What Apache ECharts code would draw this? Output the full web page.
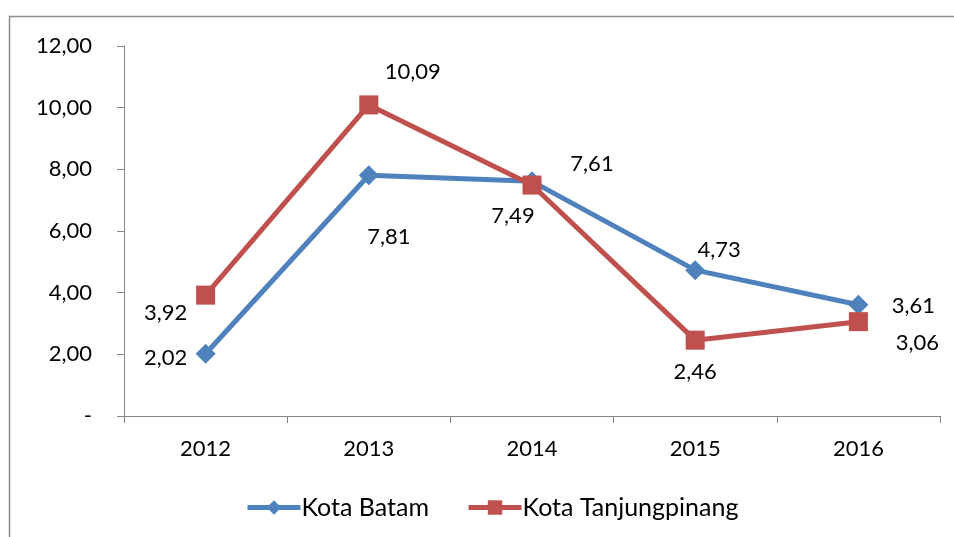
<!DOCTYPE html>
<html><head><meta charset="utf-8">
<script src="https://cdn.jsdelivr.net/npm/echarts@6/dist/echarts.min.js"></script>
<style>html,body{margin:0;padding:0;background:#fff}#c{width:954px;height:537px}</style>
</head><body><div id="c"></div>
<script>
const categories = ['2012','2013','2014','2015','2016'];
const seriesNames = ['Kota Batam','Kota Tanjungpinang'];
const batam = [2.02, 7.81, 7.61, 4.73, 3.61];
const tanjungpinang = [3.92, 10.09, 7.49, 2.46, 3.06];
const yTicks = [0, 2, 4, 6, 8, 10, 12];

const batamOffsets = [[-40,4],[20,62],[60,-17],[24,-20],[55,1]];
const tanjOffsets = [[-40,18],[44,-33],[-19,31],[0,32],[59,21]];

const FONT = 'Lato';
const fmt = v => v === 0 ? '-' : v.toFixed(2).replace('.', ',');

function build(vals, offs) {
  return vals.map((v, i) => ({
    value: v,
    label: { show: true, position: 'inside', offset: offs[i], formatter: p => fmt(p.value),
      color: '#000', fontFamily: FONT, fontSize: 22 }
  }));
}

const chart = echarts.init(document.getElementById('c'));
chart.setOption({
  animation: false,
  backgroundColor: '#fff',
  graphic: [{ type: 'rect', shape: { x: 9.5, y: 16.5, width: 960, height: 540 },
    style: { fill: 'none', stroke: '#8c8c8c', lineWidth: 1.5 }, z: -1 }],
  grid: { left: 124, right: 14, top: 46, bottom: 121, containLabel: false },
  legend: {
    left: 240, top: 490, itemWidth: 53, itemHeight: 18, itemGap: 37,
    textStyle: { fontFamily: FONT, fontSize: 25, color: '#000', padding: [0,0,0,-4] },
    lineStyle: { width: 5 },
    data: seriesNames
  },
  xAxis: {
    type: 'category', data: categories, boundaryGap: true,
    axisLine: { lineStyle: { color: '#868686', width: 1 } },
    axisTick: { show: true, length: 7, inside: false, alignWithLabel: false, lineStyle: { color: '#868686' } },
    axisLabel: { fontFamily: FONT, fontSize: 22, color: '#000', margin: 22 }
  },
  yAxis: {
    type: 'value', min: yTicks[0], max: yTicks[yTicks.length - 1], interval: 2,
    splitLine: { show: false },
    axisLine: { show: true, lineStyle: { color: '#868686', width: 1 } },
    axisTick: { show: true, length: 7, lineStyle: { color: '#868686' } },
    axisLabel: { fontFamily: FONT, fontSize: 22, color: '#000', margin: 32, formatter: fmt }
  },
  series: [
    { name: seriesNames[0], type: 'line', data: build(batam, batamOffsets),
      symbol: 'diamond', symbolSize: 20, color: '#4F81BD',
      lineStyle: { width: 5, color: '#4F81BD' }, itemStyle: { color: '#4F81BD' } },
    { name: seriesNames[1], type: 'line', data: build(tanjungpinang, tanjOffsets),
      symbol: 'rect', symbolSize: 19, color: '#C0504D',
      lineStyle: { width: 5, color: '#C0504D' }, itemStyle: { color: '#C0504D' } }
  ]
});
</script></body></html>
